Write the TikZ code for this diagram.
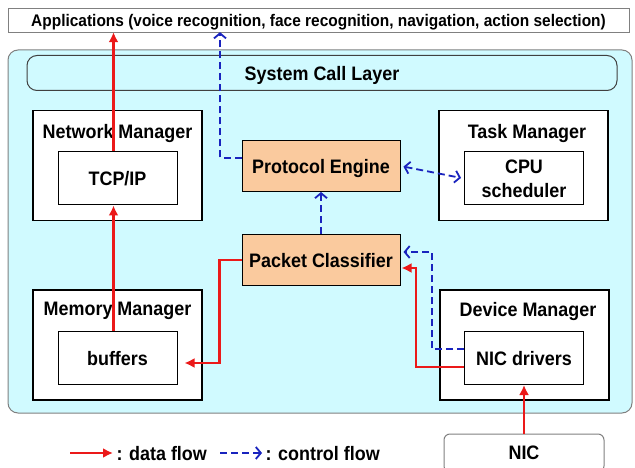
\documentclass[tikz,border=0pt]{standalone}
\usepackage{fontspec}
\setmainfont{Liberation Sans}[FakeStretch=0.92]
\usetikzlibrary{arrows.meta,positioning}
\definecolor{bgcyan}{RGB}{208,250,255}
\definecolor{peach}{RGB}{250,202,158}
\definecolor{dred}{RGB}{235,25,25}
\definecolor{cblue}{RGB}{25,35,190}

\begin{document}
\begin{tikzpicture}[x=1pt, y=-1pt, font=\fontsize{19.5}{24}\selectfont\bfseries, every node/.append style={text depth=0pt}]

		% Styles
		\tikzstyle{mgrbox} = [draw, line width=1.3pt, fill=white, minimum width=169pt, minimum height=110pt];
		\tikzstyle{subbox} = [draw, line width=1pt, fill=white, align=center, minimum width=119pt, minimum height=53pt];
		\tikzstyle{corebox} = [draw, line width=1pt, fill=peach, minimum width=158pt, minimum height=51pt];
		\tikzstyle{dataflow} = [draw=dred, line width=2.2pt, -{Latex[length=10pt,width=10pt]}];
		\tikzstyle{ctrlflow} = [draw=cblue, line width=1.8pt, dash pattern=on 7pt off 4pt, -{Straight Barb[length=5pt,width=12pt]}];

		\useasboundingbox (0,0) rectangle (635,468);

		% Layers
		\node[draw=gray, fill=white, minimum width=621pt, minimum height=24pt, font=\fontsize{16.8}{20}\selectfont\bfseries] (apps) at (318.5,20)
		{Applications (voice recognition, face recognition, navigation, action selection)};

		\draw[gray, line width=1pt, fill=bgcyan, rounded corners=10pt] (8,50) rectangle (632,413);

		\node[draw=black!75, line width=1pt, fill=bgcyan, rounded corners=10pt, minimum width=590pt, minimum height=35pt] (syscall) at (322,73) {System Call Layer};

		% Managers
		\node[mgrbox] (netmgr) at (117.5,165.5) {};
		\node (netlbl) at (117.5,131) {Network Manager};
		\node[subbox] (tcpip) at (117.5,178.5) {TCP/IP};

		\node[mgrbox] (memmgr) at (117.5,345) {};
		\node (memlbl) at (117.5,309) {Memory Manager};
		\node[subbox] (buffers) at (117.5,358) {buffers};

		\node[mgrbox] (taskmgr) at (523.5,165.5) {};
		\node (tasklbl) at (527,131) {Task Manager};
		\node[subbox, inner sep=1pt] (cpu) at (524,178.5) {CPU\\scheduler};

		\node[mgrbox] (devmgr) at (524.5,345) {};
		\node (devlbl) at (528,309) {Device Manager};
		\node[subbox] (nicdrv) at (524,358) {NIC drivers};

		% Core
		\node[corebox] (proto) at (321,166) {Protocol Engine};
		\node[corebox] (classif) at (321,260) {Packet Classifier};

		\node[draw=gray, line width=1pt, fill=white, rounded corners=6pt, minimum width=160pt, minimum height=38pt] (nic) at (524,453) {NIC};

		% Arrows
		\draw[dataflow] ([xshift=-4pt]buffers.north) -- ([xshift=-4pt]tcpip.south);
		\draw[dataflow] ([xshift=-4pt]tcpip.north) -- ([xshift=-4pt]tcpip.north |- apps.south);
		\draw[dataflow, shorten >=7pt] (classif.west) -- ++(-22,0) |- ([yshift=-5pt]buffers.east);
		\draw[dataflow, shorten >=1pt] ([yshift=-9pt]nicdrv.west) -- ++(-48,0) |- ([yshift=-8pt]classif.east);
		\draw[dataflow] (nic.north) -- (nicdrv.south);

		\draw[ctrlflow] ([yshift=8pt]proto.west) -| ([xshift=-98.5pt]apps.south);
		\draw[ctrlflow] (classif.north) -- (proto.south);
		\draw[ctrlflow, {Straight Barb[length=5pt,width=12pt]}-{Straight Barb[length=5pt,width=12pt]}, shorten <=3pt, shorten >=3pt] (proto.east) -- (cpu.west);
		\draw[ctrlflow, shorten >=3pt] ([yshift=9pt]nicdrv.west) -- ++(-32,0) |- ([yshift=8pt]classif.east);

		% Legend
		\coordinate (dstart) at (70,453);
		\node[anchor=west] (dflow) at (113,453) {: data flow};
		\draw[dataflow] (dstart) -- (dflow.west);
		\coordinate (cstart) at (220,453);
		\node[anchor=west] (cflow) at (262,453) {: control flow};
		\draw[ctrlflow] (cstart) -- (cflow.west);

	\end{tikzpicture}
\end{document}
